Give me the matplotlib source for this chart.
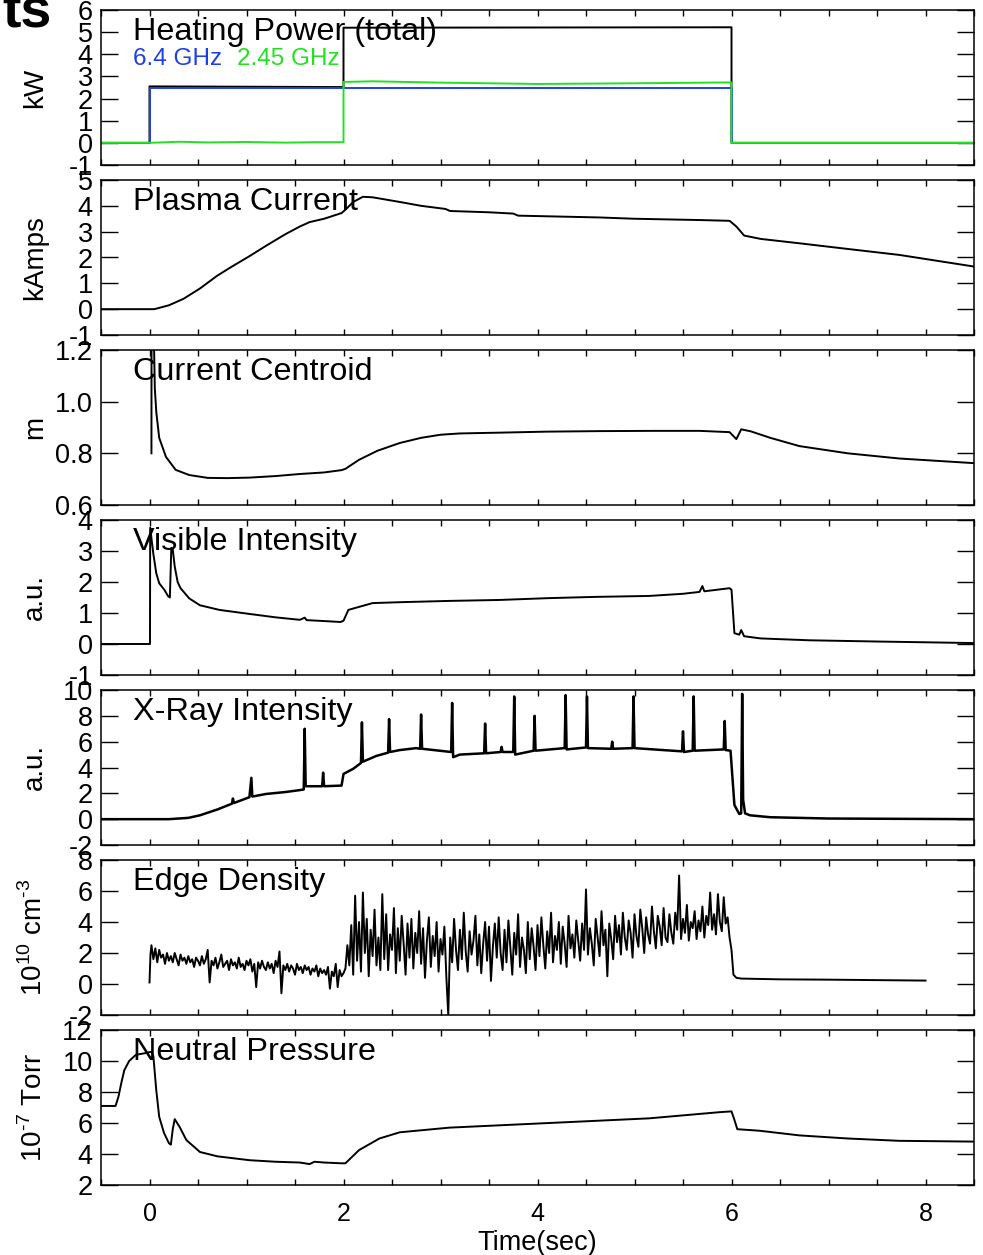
import numpy as np
import matplotlib.pyplot as plt
from matplotlib.ticker import MultipleLocator

plt.rcParams['font.family'] = ['Liberation Sans', 'DejaVu Sans']
plt.rcParams['axes.unicode_minus'] = False
plt.rcParams['mathtext.fontset'] = 'custom'
plt.rcParams['mathtext.rm'] = 'Liberation Sans'

# --- heating power (kW)
heat_t = [-0.5, 0.0, 0.0, 2.0, 2.0, 6.0, 6.0, 8.5]
total_kw = [0, 0, 2.55, 2.52, 5.2, 5.22, 0, 0]
ghz64_t = [-0.5, 0.0, 0.0, 6.0, 6.0, 8.5]
ghz64_kw = [0, 0, 2.5, 2.5, 0, 0]
ghz245_t = [-0.5, 0.0, 0.3, 0.6, 1.0, 1.4, 1.7, 2.0, 2.0, 2.3, 3.0, 4.0, 5.0, 6.0, 6.0, 8.5]
ghz245_kw = [0, 0, 0.05, 0.02, 0.04, 0.01, 0.03, 0.03, 2.75, 2.78, 2.72, 2.66, 2.69, 2.73, 0, 0]

# --- plasma current (kA)
cur_t = [-0.5, 0.05, 0.2, 0.35, 0.52, 0.7, 0.85, 1.03, 1.2, 1.4, 1.55, 1.65, 1.8, 1.98,
         2.02, 2.1, 2.2, 2.3, 2.58, 2.8, 3.05, 3.1, 3.5, 3.75, 3.8, 4.64, 5.0, 5.67, 5.98,
         6.05, 6.13, 6.3, 6.7, 7.2, 7.73, 8.5]
cur_ka = [0, 0, 0.15, 0.4, 0.8, 1.3, 1.65, 2.05, 2.45, 2.9, 3.2, 3.37, 3.5, 3.72,
          3.85, 4.15, 4.35, 4.33, 4.15, 4.0, 3.88, 3.8, 3.75, 3.7, 3.62, 3.55, 3.5, 3.45, 3.42,
          3.2, 2.85, 2.72, 2.55, 2.33, 2.1, 1.65]

# --- current centroid (m)
cen_t = [0.02, 0.021, 0.045, 0.055, 0.07, 0.1, 0.17, 0.27, 0.41, 0.6, 0.8, 1.03, 1.3, 1.55,
         1.8, 1.98, 2.02, 2.16, 2.35, 2.58, 2.8, 3.0, 3.2, 3.6, 4.1, 4.64, 5.2, 5.67, 5.98,
         6.05, 6.1, 6.2, 6.4, 6.7, 7.2, 7.73, 8.5]
cen_m = [0.8, 1.25, 1.25, 1.05, 0.96, 0.86, 0.786, 0.736, 0.716, 0.705, 0.704, 0.706, 0.712, 0.72,
         0.726, 0.735, 0.74, 0.775, 0.81, 0.84, 0.86, 0.872, 0.877, 0.88, 0.884, 0.886, 0.887, 0.887, 0.882,
         0.855, 0.893, 0.885, 0.86, 0.828, 0.8, 0.78, 0.762]

# --- visible intensity (a.u.)
vis_t = [-0.5, 0.005, 0.007, 0.04, 0.07, 0.1, 0.155, 0.19, 0.21, 0.225, 0.24, 0.26, 0.29, 0.32,
         0.41, 0.52, 0.72, 1.03, 1.3, 1.55, 1.6, 1.62, 1.8, 1.97, 2.0, 2.05, 2.3, 2.6, 3.09,
         3.6, 4.12, 4.6, 5.15, 5.5, 5.67, 5.7, 5.72, 5.98, 6.0, 6.03, 6.08, 6.1, 6.13, 6.3, 6.8, 7.5, 8.5]
vis_au = [0, 0, 3.75, 2.9, 2.28, 1.96, 1.74, 1.55, 1.5, 3.1, 3.05, 2.5, 2.0, 1.8,
          1.47, 1.25, 1.1, 0.97, 0.86, 0.78, 0.85, 0.77, 0.74, 0.71, 0.75, 1.1, 1.32, 1.35, 1.39,
          1.42, 1.48, 1.52, 1.55, 1.62, 1.68, 1.87, 1.7, 1.8, 1.75, 0.35, 0.3, 0.45, 0.25, 0.18, 0.12, 0.08, 0.03]

# --- x-ray intensity (a.u.)
xr_t = [-0.5, 0.2, 0.4, 0.52, 0.7, 0.85, 0.86, 0.87, 1.03, 1.05, 1.06, 1.2, 1.4, 1.55, 1.59, 1.6, 1.61,
        1.78, 1.79, 1.8, 1.98, 2.0, 2.1, 2.18, 2.19, 2.2, 2.34, 2.46, 2.47, 2.48, 2.58, 2.75, 2.79, 2.8,
        2.81, 2.99, 3.11, 3.12, 3.13, 3.2, 3.45, 3.46, 3.47, 3.62, 3.63, 3.64, 3.75, 3.76, 3.77, 3.96,
        3.97, 3.98, 4.28, 4.29, 4.3, 4.5, 4.51, 4.52, 4.76, 4.77, 4.78, 4.98, 4.99, 5.0, 5.49, 5.5,
        5.51, 5.6, 5.61, 5.62, 5.92, 5.93, 5.94, 5.99, 6.03, 6.08, 6.1, 6.11, 6.12, 6.14, 6.19, 6.4,
        7.0, 8.5]
xr_au = [0, 0, 0.1, 0.3, 0.75, 1.2, 1.6, 1.25, 1.7, 3.2, 1.75, 1.95, 2.1, 2.25, 2.3, 7.0, 2.55,
         2.55, 3.6, 2.55, 2.6, 3.5, 3.9, 4.35, 7.5, 4.45, 4.9, 5.15, 7.75, 5.2, 5.35, 5.5, 5.45, 8.1,
         5.45, 5.3, 5.2, 9.0, 4.8, 5.0, 5.1, 7.4, 5.1, 5.2, 5.6, 5.2, 5.2, 9.5, 5.0, 5.3,
         8.0, 5.3, 5.5, 9.6, 5.4, 5.55, 9.5, 5.5, 5.45, 6.0, 5.45, 5.5, 9.5, 5.5, 5.25, 6.8,
         5.2, 5.3, 9.5, 5.3, 5.4, 7.6, 5.35, 5.3, 1.1, 0.4, 0.45, 9.7, 1.5, 0.45, 0.3, 0.15,
         0.05, 0.0]

# --- edge density (1e10 cm^-3), sampled every 0.02 s while the discharge is on
edge_pre = [0.1, 1.9]
edge_a = [2.5, 1.6, 2.3, 1.4, 2.2, 1.7, 1.9, 1.3, 2.0, 1.5,
          1.8, 1.4, 2.0, 1.6, 1.2, 1.9, 1.5, 1.7, 1.3, 1.8,
          1.4, 1.6, 1.1, 1.7, 1.5, 1.2, 1.8, 1.3, 1.6, 2.2,
          0.1, 1.5, 1.2, 1.7, 1.0, 1.4, 1.9, 1.1, 1.3, 1.5,
          0.9, 1.6, 1.2, 1.4, 1.0, 1.7, 1.1, 1.3, 0.9, 1.5,
          1.2, 1.6, 0.8, 1.3, -0.2, 1.4, 1.0, 1.5, 1.1, 0.9,
          1.4, 1.0, 1.3, 0.7, 1.5, 1.1, 2.1, -0.6, 1.2, 0.9,
          1.3, 0.8, 1.2, 1.0, 0.6, 1.3, 0.9, 1.1, 0.7, 1.2,
          0.9, 1.1, 0.6, 1.0, 0.8, 1.2, 0.5, 1.0, 0.7, 0.9,
          0.6, 1.1, -0.3, 0.8, 0.5, 1.3, -0.2, 0.9, 0.5, 0.7]
edge_b = [1.0, 2.5, 1.2, 3.8, 0.6, 5.7, 1.5, 4.0, 0.8, 5.9,
          2.0, 4.2, 0.5, 3.5, 1.8, 4.8, 1.2, 3.0, 0.9, 5.8,
          1.6, 4.5, 0.9, 3.2, 2.2, 4.9, 0.7, 3.6, 1.5, 4.4,
          2.6, 0.6, 3.9, 1.7, 4.2, 1.0, 3.3, 2.0, 4.7, 1.3,
          3.6, 0.4, 2.8, 4.3, 1.1, 3.1, 1.8, 4.0, 0.8, 2.9,
          1.9, 3.7, 0.5, -2.0, 3.0, 1.4, 4.2, 2.2, 0.9, 3.5,
          1.6, 4.6, 2.1, 0.8, 3.4, 1.9, 2.8, 4.4, 1.2, 3.2,
          0.7, 2.6, 4.0, 1.5, 3.7, 0.2, 2.4, 3.9, 1.7, 4.3,
          2.0, 0.9, 3.5, 1.4, 4.1, 2.3, 0.6, 3.3, 1.9, 4.5,
          1.1, 3.0, 2.2, 0.7, 4.0, 1.6, 3.6, 2.4, 0.9, 3.8,
          1.8, 4.3, 2.5, 1.0, 3.4, 2.0, 4.6, 1.4, 3.1, 2.2,
          4.0, 1.3, 3.7, 2.6, 1.1, 4.4, 2.3, 3.2, 1.7, 4.1,
          2.8, 1.5, 3.9, 2.2, 6.1, 1.9, 3.6, 2.6, 1.2, 4.2,
          3.0, 1.8, 4.7, 2.5, 3.5, 0.5, 3.9, 2.9, 1.6, 4.4,
          2.7, 3.8, 1.9, 4.6, 3.0, 2.2, 4.1, 3.3, 1.7, 4.5,
          3.1, 2.4, 4.8, 3.6, 2.0, 4.3, 3.2, 2.6, 5.0, 3.4,
          2.3, 4.4, 3.7, 2.5, 4.9, 3.0, 2.7, 4.5, 3.3, 2.6,
          4.6, 3.5, 7.0, 2.9, 4.2, 3.3, 5.1, 2.8, 4.0, 3.6,
          4.7, 2.9, 4.1, 3.4, 5.0, 3.0, 4.4, 3.8, 5.9, 3.5,
          4.5, 3.2, 5.8, 4.0, 3.4, 5.6, 3.9, 4.3, 3.0, 2.2]
edge_post_t = [6.02, 6.05, 6.1, 6.5, 7.0, 7.5, 8.0]
edge_post = [0.6, 0.4, 0.35, 0.3, 0.28, 0.25, 0.22]

# --- neutral pressure (1e-7 Torr)
np_t = [-0.5, -0.35, -0.32, -0.29, -0.26, -0.21, -0.14, -0.05, 0.02, 0.04, 0.07, 0.1, 0.15, 0.2,
        0.22, 0.24, 0.26, 0.31, 0.38, 0.52, 0.7, 1.03, 1.3, 1.55, 1.65, 1.7, 1.8, 1.98, 2.02, 2.16,
        2.37, 2.58, 3.09, 4.12, 5.15, 5.88, 6.0, 6.03, 6.06, 6.29, 6.7, 7.2, 7.73, 8.5]
np_torr = [7.1, 7.1, 7.7, 8.6, 9.4, 10.0, 10.4, 10.5, 10.6, 10.3, 8.1, 6.4, 5.35, 4.7,
           4.6, 5.6, 6.25, 5.75, 4.9, 4.13, 3.85, 3.6, 3.5, 3.45, 3.35, 3.5, 3.45, 3.4, 3.4, 4.25,
           5.0, 5.4, 5.7, 6.0, 6.3, 6.7, 6.75, 6.2, 5.6, 5.5, 5.2, 5.0, 4.85, 4.8]

edge_t = np.concatenate([[0.0, 0.01], np.linspace(0.02, 2.0, len(edge_a)),
                         np.linspace(2.02, 6.0, len(edge_b)), edge_post_t])
edge_v = np.concatenate([edge_pre, edge_a, edge_b, edge_post])

W, H = 983, 1255
fig = plt.figure(figsize=(W / 100, H / 100), dpi=100)

panels = [
    ((-1, 6), range(-1, 7), 'kW', 'Heating Power (total)'),
    ((-1, 5), range(-1, 6), 'kAmps', 'Plasma Current'),
    ((0.6, 1.2), [0.6, 0.8, 1.0, 1.2], 'm', 'Current Centroid'),
    ((-1, 4), range(-1, 5), 'a.u.', 'Visible Intensity'),
    ((-2, 10), range(-2, 11, 2), 'a.u.', 'X-Ray Intensity'),
    ((-2, 8), range(-2, 9, 2), r'10$^{10}$ cm$^{\text{-3}}$', 'Edge Density'),
    ((2, 12), range(2, 13, 2), r'10$^{\text{-7}}$ Torr', 'Neutral Pressure'),
]

axes = []
for i, (ylim, yt, ylab, title) in enumerate(panels):
    top = 10 + 170 * i
    ax = fig.add_axes([101 / W, 1 - (top + 155) / H, 873 / W, 155 / H])
    ax.set_xlim(-0.5, 8.5)
    ax.set_ylim(*ylim)
    ax.set_yticks(list(yt))
    ax.xaxis.set_major_locator(MultipleLocator(2))
    ax.xaxis.set_minor_locator(MultipleLocator(0.5))
    ax.tick_params(axis='x', which='both', direction='in', top=True, bottom=True,
                   length=4, width=1, labelbottom=False)
    ax.tick_params(axis='y', direction='in', left=True, right=True, length=12,
                   width=1, labelsize=19.5, pad=6)
    for s in ax.spines.values():
        s.set_linewidth(1.1)
    ax.set_ylabel(ylab, fontsize=20)
    ax.yaxis.set_label_coords(-0.061, 0.5)
    ax.text(0.0367, 0.806, title, transform=ax.transAxes, fontsize=23.3)
    axes.append(ax)

lw = 1.4
axes[0].plot(heat_t, total_kw, color='black', lw=lw)
axes[0].plot(ghz64_t, ghz64_kw, color='#1f3fe6', lw=lw)
axes[0].plot(ghz245_t, ghz245_kw, color='#22e022', lw=lw)
axes[0].text(0.0367, 0.645, '6.4 GHz', transform=axes[0].transAxes, fontsize=17.5, color='#1f3fe6')
axes[0].text(0.1558, 0.645, '2.45 GHz', transform=axes[0].transAxes, fontsize=17.5, color='#22e022')

axes[1].plot(cur_t, cur_ka, color='black', lw=lw)
axes[2].plot(cen_t, cen_m, color='black', lw=lw)
axes[3].plot(vis_t, vis_au, color='black', lw=lw)
axes[4].plot(xr_t, xr_au, color='black', lw=1.8)
axes[5].plot(edge_t, edge_v, color='black', lw=lw)
axes[6].plot(np_t, np_torr, color='black', lw=lw)

axes[6].tick_params(axis='x', labelbottom=True, labelsize=18, pad=12)
axes[6].set_xlabel('Time(sec)', fontsize=19.5, labelpad=3)

fig.text(52 / W, 1 - 27 / H, 'ts', ha='right', va='baseline', fontsize=40, fontweight='bold')

fig.savefig('out.png', dpi=100)
